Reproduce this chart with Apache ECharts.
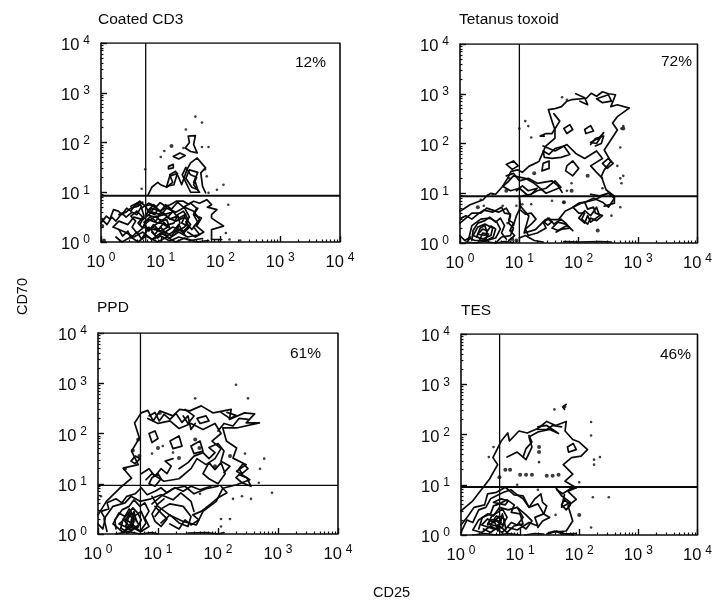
<!DOCTYPE html>
<html><head><meta charset="utf-8">
<script src="https://cdn.jsdelivr.net/npm/echarts@6/dist/echarts.min.js"></script>
<style>html,body{margin:0;background:#fff}#c{width:715px;height:600px}</style></head>
<body><div id="c"></div>
<script>
// All contour / dot values are log10 decades: flat x,y,x,y lists
const panelNames = ['Coated CD3','Tetanus toxoid','PPD','TES'];
const percents = ['12%','72%','61%','46%'];
const gatesX = [5.6,10,5.1,4.5];
const gatesY = [8.5,8.7,9.3,9];
const majorTicks = [1,10,100,1000,10000];
const minorTicks = [2,3,4,5,6,7,8,9,20,30,40,50,60,70,80,90,200,300,400,500,600,700,800,900,2000,3000,4000,5000,6000,7000,8000,9000];

const coatedLines = [
 [0,.38,.09,.52,.15,.46,.21,.65,.29,.62,.35,.55,.43,.68,.5,.62,.57,.75,.65,.82,.74,.72,.82,.75,.92,.7,.99,.79,1.08,.72,1.16,.75,1.26,.82,1.38,.82,1.46,.76,1.55,.82,1.65,.78,1.77,.85,1.85,.75,1.78,.7,1.94,.65,1.85,.55,1.85,.48,2.05,.32,1.85,.25,1.85,.05,2.02,.05],
 [.79,.95,.85,1.1,.95,1.2,1.0,1.15,1.1,1.1,1.2,1.2,1.15,1.35,1.25,1.42,1.3,1.3,1.35,1.15,1.44,1.46,1.5,1.59,1.61,1.69,1.75,1.49,1.67,1.39,1.7,1.12,1.75,.99],
 [1.46,2.13,1.58,2.14,1.55,1.96,1.61,1.79,1.5,1.82,1.41,1.89,1.48,2.0,1.46,2.13],
 [1.21,1.72,1.32,1.79,1.41,1.74,1.3,1.67,1.21,1.72],
 [1.13,1.52,1.21,1.56,1.21,1.49,1.13,1.47,1.13,1.52],
 [1.42,1.5,1.5,1.35,1.6,1.3,1.55,1.15,1.65,1.0,1.5,1.0,1.42,1.2,1.36,1.35,1.42,1.5],
 [1.1,1.12,1.15,1.32,1.28,1.38,1.22,1.15,1.1,1.12],
 [1.55,1.2,1.62,1.4,1.48,1.45,1.42,1.28,1.52,1.1,1.62,1.05,1.58,1.2],
 [.2,.3,.3,.42,.45,.35,.55,.5,.7,.45,.85,.6,1.0,.55,1.1,.68,1.25,.6,1.4,.7,1.55,.62,1.65,.45,1.55,.3,1.65,.15,1.45,.1,1.3,.2,1.15,.08,1.0,.18,.85,.05,.7,.2,.55,.1,.4,.2,.2,.3],
 [.7,.3,.8,.45,.95,.38,1.1,.5,1.25,.42,1.4,.5,1.5,.35,1.38,.22,1.2,.3,1.05,.18,.9,.25,.7,.3],
 [.75,.55,.85,.68,.98,.62,1.12,.72,1.2,.6,1.05,.55,.9,.5,.75,.55],
 [.85,.3,.98,.4,1.12,.3,1.0,.22,.85,.3],
 [.25,.1,.35,.0,.5,.1,.62,.0,.75,.12,.95,.0,1.1,.1,1.25,.0,1.4,.08,1.6,.0,1.8,.03],
 [.65,.35,.72,.52,.68,.68,.8,.78,.92,.72],
 [1.25,.2,1.32,.38,1.28,.55,1.38,.62,1.46,.45,1.4,.3,1.25,.2],
 [.3,.55,.42,.6,.5,.68,.62,.72,.7,.8],
 [.02,.45,.1,.35,.18,.5,.25,.42,.35,.58,.42,.5,.52,.6,.6,.55,.68,.72,.6,.78,.5,.72],
 [.3,.25,.36,.12,.45,.22,.5,.08,.6,.2,.68,.06,.78,.25,.72,.4,.82,.5,.92,.42,1.0,.6,1.12,.5,1.2,.62,1.3,.48,1.42,.56,1.35,.38,1.48,.3,1.38,.18,1.28,.28,1.18,.12,1.05,.22,.95,.08,.85,.2],
 [.75,.7,.82,.58,.9,.7,1.0,.62,1.08,.75,1.18,.66,1.28,.8,1.38,.7,1.5,.78,1.6,.68,1.55,.55,1.68,.48,1.6,.32,1.72,.2,1.58,.1,1.45,.2],
 [.72,.35,.8,.22,.88,.35,.96,.25,1.05,.38,1.15,.28,1.1,.45,1.0,.42,.92,.52,.82,.44,.72,.35],
 [.6,.62,.7,.5,.62,.38,.7,.28,.6,.18,.52,.3,.58,.42,.5,.52,.6,.62],
 [1.4,.68,1.48,.5,1.42,.4,1.52,.25,1.62,.4,1.55,.55,1.62,.68],
 [.85,.05,1.0,.12,1.15,.02,1.3,.1,1.5,.03,1.7,.07],
 [1.05,.58,1.15,.46,1.28,.52,1.22,.38,1.1,.34,1.0,.45],
 [.78,.62,.88,.75,.95,.66,.9,.55,.78,.62],
 [.72,.12,.8,.3,.9,.15,1.0,.3,1.1,.12,1.2,.2,1.3,.35,1.4,.15]
];
const coatedDots = [1.58,2.52,1.69,2.4,1.42,2.26,1.8,1.91,1.69,1.91,1.38,1.89,1.06,1.83,1.0,1.71,.74,1.46,.68,1.07,1.94,1.05,2.05,1.15,1.77,1.32,1.74,1.46,1.8,.99,2.13,.75,2.09,.18,2.15,.05,2.33,.03];
const coatedBlobs = [1.18,1.93,.65,.78,.6,.74,.02,.32,.05,.03];

const tetanusLines = [
 [0,.64,.17,.77,.39,.87,.45,.95,.52,1.0,.6,.98,.72,1.14,.8,1.3,.86,1.44,.97,1.47,1.05,1.42,1.16,1.54,1.33,1.64,1.44,1.94,1.6,2.11,1.6,2.27,1.55,2.45,1.49,2.68,1.6,2.7,1.71,2.74,1.8,2.85,1.88,2.88,2.13,2.91,2.21,3.01,2.3,2.95,2.4,3.04,2.5,3.0,2.62,2.98,2.54,2.74,2.65,2.78,2.85,2.71,2.65,2.54,2.57,2.41,2.65,2.27,2.54,2.07,2.43,1.87,2.54,1.64,2.43,1.47,2.38,1.34,2.46,1.07,2.6,.94,2.6,.8,2.43,.74],
 [1.02,.74,1.16,.54,1.08,.2,1.27,.27,1.44,.47,1.66,.47,1.77,.64,2.04,.8,2.27,.87,2.49,1.0],
 [.72,1.14,.85,1.05,1.0,1.1,1.15,.95,1.3,1.05,1.45,1.1,1.6,1.25,1.7,1.12,1.45,1.0,1.25,1.2,1.1,1.3,.9,1.35,.8,1.22,.72,1.14],
 [.78,1.58,.9,1.65,.98,1.55,.88,1.48,.78,1.58],
 [1.4,1.95,1.6,1.85,1.8,1.98,1.95,1.8,2.1,1.7,2.3,1.85,2.4,1.7,2.2,1.55,2.3,1.42,2.4,1.3],
 [1.4,1.6,1.5,1.65,1.5,1.5,1.38,1.45,1.4,1.6],
 [1.8,1.55,1.9,1.65,2.0,1.5,1.9,1.35,1.78,1.45,1.8,1.55],
 [1.75,2.3,1.85,2.38,1.9,2.28,1.8,2.2,1.75,2.3],
 [2.1,2.28,2.2,2.36,2.25,2.25,2.12,2.2,2.1,2.28],
 [2.2,2.02,2.35,2.12,2.42,2.22,2.3,2.0,2.2,2.02],
 [2.4,1.6,2.5,1.7,2.58,1.6,2.48,1.5,2.4,1.6],
 [2.0,.5,2.1,.65,2.2,.55,2.3,.72,2.35,.55,2.2,.42,2.15,.55,2.1,.4,2.0,.5],
 [1.55,.3,1.65,.42,1.78,.38,1.9,.25,1.8,.35,1.65,.25,1.55,.3],
 [0,.4,.1,.5,.2,.6,.35,.6,.45,.7,.65,.62,.78,.7,.85,.55,.82,.4,.9,.3,.85,.15,.7,.12,.6,0],
 [.15,.1,.2,.35,.35,.48,.5,.5,.62,.42,.68,.28,.6,.1,.45,.05,.25,.05,.15,.1],
 [.22,.15,.3,.32,.42,.38,.55,.3,.52,.15,.38,.08,.22,.15],
 [.3,.18,.38,.28,.46,.25,.44,.15,.3,.18],
 [0,.15,.08,.05,.18,.12,.12,.02],
 [.1,.02,.25,0,.4,.03,.6,0,.75,.03,.9,.01],
 [1.0,.1,1.1,.15,1.25,.05,1.4,.02],
 [1.75,.03,2.0,.02,2.35,.03,2.55,.02],
 [1.95,3.0,2.1,2.92,2.15,2.78,2.02,2.85],
 [2.3,2.9,2.5,2.98,2.55,2.85,2.4,2.82,2.3,2.9],
 [.9,.35,.95,.55,1.02,.72,1.0,.95],
 [.02,.5,.1,.55,.2,.48,.3,.58,.4,.66,.55,.62,.7,.72,.75,.6,.85,.58,.82,.46,.9,.4,.84,.25,.92,.15,.82,.05],
 [.2,.05,.22,.25,.3,.4,.42,.45,.5,.52,.6,.42,.68,.5,.75,.35,.7,.2,.78,.08],
 [.28,.12,.34,.3,.42,.35,.45,.22,.52,.34,.6,.28,.56,.12,.46,.06,.28,.12],
 [.33,.05,.38,.2,.48,.18,.42,.05],
 [1.02,.66,1.1,.58,1.2,.6,1.28,.48,1.2,.38,1.1,.28,1.15,.15,1.3,.2,1.45,.3,1.4,.42,1.5,.5,1.58,.38,1.7,.48,1.78,.4,1.85,.3,1.72,.28,1.62,.22],
 [1.42,.42,1.48,.5,1.54,.42,1.48,.36,1.42,.42],
 [1.9,.72,2.0,.8,2.1,.82,2.15,.68,2.25,.72,2.28,.6,2.4,.55,2.3,.45,2.2,.5,2.15,.38,2.05,.48,2.1,.6,2.0,.6,1.9,.72],
 [2.1,.82,2.25,.9,2.4,.82,2.5,.72,2.6,.9,2.5,1.0,2.35,.95,2.2,.98],
 [.95,1.05,1.05,1.15,1.15,1.05,1.3,1.1,1.2,.98,1.05,.95],
 [.78,1.35,.9,1.4,1.0,1.25,1.15,1.3,1.3,1.2,1.55,1.25,1.65,1.15,1.72,1.02],
 [1.58,2.6,1.68,2.45,1.55,2.2,1.45,2.2,1.35,2.15,1.42,2.15],
 [1.4,1.85,1.5,1.78,1.6,1.9,1.75,1.95,1.85,1.78,1.7,1.72,1.55,1.7,1.42,1.72,1.4,1.85],
 [2.2,1.98,2.28,2.1,2.42,2.15,2.38,2.0,2.28,1.95]
];
const tetanusDots = [1.72,2.93,1.8,2.88,1.1,2.45,1.15,2.35,1.0,2.3,1.2,2.12,.83,1.3,.72,.75,.95,.75,1.05,.78,1.2,.78,.8,.4,.88,.25,.35,.87,.55,.98,.4,.75,1.8,1.05,1.88,1.2,1.55,.85,1.75,.82,2.7,.72,2.55,.55,2.65,1.55,2.7,1.3,2.72,1.2,2.4,1.1,2.75,1.35,2.7,1.92,2.75,2.35,2.72,2.3];
const tetanusBlobs = [1.88,1.05,2.32,.25,.88,.08,.95,.05,.3,.72,.78,1.05,1.75,.82,2.75,2.3,1.25,1.4,2.15,1.35];

const ppdLines = [
 [0,.38,.14,.65,.36,.91,.56,1.11,.42,1.31,.67,1.38,.56,1.65,.69,1.91,.61,2.21,.72,2.41,.83,2.46,.92,2.25,1.03,2.45,1.25,2.35,1.36,2.48,1.53,2.45,1.72,2.55,1.92,2.41,2.22,2.48,2.19,2.28,2.44,2.41,2.61,2.39,2.47,2.21,2.69,2.21,2.31,2.11,2.08,2.11,2.14,1.85,2.31,1.71,2.25,1.51,2.47,1.38,2.31,1.25,2.53,1.08,2.31,.98,2.08,.91,1.97,.65,1.75,.45,1.64,.18,1.42,.25,1.19,.38,1.0,.55,.9,.75],
 [.83,2.3,1.0,2.2,1.2,2.25,1.35,2.1,1.55,2.2,1.75,2.08,1.95,2.2,2.05,2.0,1.9,1.85,2.05,1.7,1.95,1.5,1.8,1.38,1.65,1.5,1.55,1.3,1.35,1.1,1.1,1.05,.9,1.2,.8,1.08],
 [1.8,2.35,1.85,2.25,1.7,2.2,1.65,2.3,1.8,2.35],
 [2.05,2.42,2.2,2.3,2.3,2.36,2.15,2.42],
 [1.45,2.48,1.6,2.35,1.5,2.2,1.42,2.35],
 [1.2,1.85,1.35,1.95,1.4,1.75,1.25,1.7,1.2,1.85],
 [1.55,1.75,1.7,1.85,1.75,1.65,1.6,1.6,1.55,1.75],
 [1.75,1.2,1.85,1.42,1.95,1.28,2.05,1.42,2.12,1.2,2.0,1.0,1.85,1.1,1.75,1.2],
 [2.35,1.3,2.42,1.4,2.5,1.3,2.4,1.2,2.35,1.3],
 [.15,.05,.1,.3,.25,.55,.45,.62,.55,.75,.7,.65,.88,.7,1.05,.78,1.25,.68,1.38,.82,1.55,.65,1.6,.45],
 [.25,.2,.35,.42,.45,.35,.52,.5,.6,.35,.72,.45,.8,.22,.7,.05,.55,.15,.42,.03,.25,.2],
 [.35,.2,.45,.3,.55,.22,.62,.32,.68,.18,.55,.08,.45,.15,.35,.2],
 [.45,.25,.52,.4,.6,.25,.55,.12,.45,.25],
 [1.05,.22,1.2,.38,1.35,.22,1.5,.15,1.55,.35,1.42,.55,1.2,.6,1.05,.5,.95,.35],
 [.9,.6,1.05,.75,1.25,.9,1.45,.95,1.6,.8,1.8,.9,2.0,.95],
 [.3,.0,.5,.05,.7,.0,.9,.03,1.0,.0],
 [1.5,.02,1.8,.03,2.0,.0,2.1,.03],
 [.85,1.0,.95,.95,1.05,1.1,1.0,1.2,.9,1.12,.85,1.0],
 [0,.2,.08,.1,.12,.3,.05,.45,.18,.5,.15,.62,.3,.7,.4,.62,.48,.75,.62,.8,.72,.92,.82,.78,.95,.85,1.05,.92,1.15,.82,1.28,.92,1.42,.85,1.55,.95,1.7,.88,1.88,.95],
 [.3,.1,.28,.28,.4,.48,.52,.55,.6,.68,.7,.55,.78,.62,.85,.45,.78,.32,.85,.15,.72,.05,.62,.12,.5,.02,.38,.12],
 [.38,.12,.42,.3,.5,.4,.58,.52,.66,.42,.72,.28,.66,.12,.55,.2,.45,.08],
 [.46,.15,.5,.3,.55,.42,.6,.3,.58,.15,.46,.15],
 [.52,.08,.56,.3,.6,.45,.64,.25],
 [.95,.55,1.05,.42,1.15,.3,1.05,.15,.95,.25,.9,.4,1.0,.6,1.1,.7],
 [1.2,.2,1.35,.1,1.45,.28,1.55,.18,1.68,.28,1.58,.38,1.72,.45,1.88,.6,2.0,.72,2.15,.82,2.05,.95],
 [.85,2.0,.95,2.05,1.0,1.9,.9,1.82,.85,2.0],
 [.72,1.2,.85,1.3,.95,1.15,1.05,1.3,1.15,1.2,1.22,1.35,1.12,1.45,1.25,1.5],
 [1.35,1.3,1.5,1.42,1.6,1.55,1.75,1.62,1.85,1.5,1.95,1.62,1.85,1.72,2.0,1.8,2.1,1.65,2.05,1.45,2.2,1.35,2.1,1.22],
 [.55,1.45,.62,1.55,.7,1.5,.62,1.4,.55,1.45],
 [.85,2.35,.95,2.42,1.02,2.25,1.1,2.38,1.2,2.28,1.3,2.4,1.4,2.22,1.5,2.35,1.55,2.08,1.62,2.2],
 [2.0,2.05,2.1,2.2,2.25,2.15,2.35,2.3,2.5,2.28],
 [2.3,1.12,2.4,1.02,2.55,.95,2.48,1.12,2.35,1.18,2.3,1.12]
];
const ppdDots = [2.3,2.97,1.62,2.7,2.5,2.7,1.08,1.75,1.25,1.62,.9,1.6,.05,.75,2.77,1.5,2.7,1.3,2.68,1.02,2.9,.82,2.55,.7,2.4,.75,2.25,.7,2.05,.3,2.2,.3,2.05,.15,1.7,.8,2.45,1.6];
const ppdBlobs = [.58,1.66,.67,1.88,.69,1.55,1.69,1.71,1.03,2.41,1.0,1.71,1.35,1.51,1.62,1.88,.45,1.3,1.95,1.35,2.2,1.55];

const tesLines = [
 [0,.48,.2,.68,.37,.94,.48,1.11,.62,1.4,.54,1.54,.68,1.87,.79,2.03,.82,1.87,.98,2.07,1.12,2.03,1.3,2.12,1.45,2.26,1.6,2.18,1.78,2.26,1.76,2.07,1.89,1.9,2.0,1.85,2.14,1.7,2.03,1.57,1.87,1.54,1.73,1.4,1.89,1.21,1.76,1.07,1.95,.94,1.81,.87,1.95,.71,1.81,.58,1.89,.28,1.78,.08,1.48,.05],
 [.78,1.55,.95,1.65,1.1,1.5,1.2,1.75,1.15,1.95,1.3,2.05,1.5,2.1,1.65,2.02,1.45,2.18,1.3,2.15],
 [1.8,1.75,1.9,1.82,1.95,1.7,1.82,1.65,1.8,1.75],
 [1.75,2.5,1.72,2.55,1.78,2.6],
 [1.6,.95,1.7,.78,1.85,.65,1.7,.55,1.75,.8],
 [0,.2,.12,.38,.22,.55,.4,.6,.45,.82,.6,.85,.75,.95,.9,.8,1.05,.78,1.15,.55,1.3,.62,1.4,.42,1.25,.35,1.3,.18,1.15,.25,.95,.1,.8,.15],
 [.2,.1,.3,.3,.45,.42,.55,.38,.65,.55,.8,.5,.95,.55,1.05,.35,.95,.2,.85,.25,.7,.05,.5,.18,.35,.05,.2,.1],
 [.35,.2,.45,.32,.55,.25,.65,.38,.75,.3,.7,.15,.55,.12,.35,.2],
 [.45,.22,.5,.3,.6,.3,.68,.25,.6,.18,.45,.22],
 [.55,.65,.68,.72,.8,.68,.75,.6,.55,.65],
 [.2,0,.4,.03,.6,.0,.8,.03,1.0,.0],
 [1.5,.03,1.62,.08,1.75,.03,1.9,.0],
 [1.08,.0,1.25,.03,1.4,.02],
 [0,.05,.1,.3,.2,.25,.3,.5,.42,.55,.5,.72,.6,.78,.72,.85,.85,.9,.95,.8,1.05,.72,1.15,.55,1.25,.72,1.35,.82,1.38,.65,1.45,.58,1.4,.42,1.5,.35,1.38,.28,1.3,.15],
 [.3,.12,.36,.35,.5,.42,.55,.58,.65,.62,.78,.7,.9,.6,.85,.45,1.0,.42,1.05,.22,.9,.18,.78,.05,.65,.18,.5,.05,.38,.12],
 [.45,.2,.52,.38,.62,.45,.7,.52,.78,.35,.7,.2,.6,.28,.45,.2],
 [.55,.3,.6,.38,.68,.3,.62,.12,.55,.3],
 [.62,.08,.7,.42,.76,.12],
 [.95,.55,1.1,.4,1.2,.28,1.1,.12,.98,.22],
 [1.62,.9,1.72,.82,1.85,.92,1.95,.94],
 [1.75,.7,1.85,.6,1.78,.5,1.7,.6,1.75,.7],
 [1.05,1.55,1.1,1.72,1.2,1.85,1.15,1.98],
 [1.3,2.1,1.45,2.1,1.55,2.18,1.7,2.15],
 [1.45,.02,1.58,.08,1.72,.02,1.95,.03]
];
const tesDots = [1.58,2.5,1.32,1.45,.47,1.55,2.2,2.25,2.2,1.98,2.35,1.55,2.25,1.4,2.25,1.5,2.23,.75,2.5,.75,1.3,.9,.55,1.75,.95,1.0,2.0,1.05,1.6,.4,2.2,.15];
const tesBlobs = [1.32,1.75,1.32,1.65,1.0,1.2,1.1,1.2,1.2,1.2,1.45,1.18,1.55,1.18,1.65,1.2,.75,1.3,.83,1.3,2.0,.4,1.75,2.55,.65,1.15];

const panelLines = [coatedLines,tetanusLines,ppdLines,tesLines];
const panelDots = [coatedDots,tetanusDots,ppdDots,tesDots];
const panelBlobs = [coatedBlobs,tetanusBlobs,ppdBlobs,tesBlobs];

const grids = [
 {left:101,top:43,width:239,height:199},
 {left:460,top:44,width:242,height:199},
 {left:98,top:333,width:240,height:201},
 {left:461,top:334,width:241,height:201}
];
const titlePos = [[98,12],[459,12],[97,300],[461,303]];
const pctPos = [[295,55],[661,54],[290,346],[660,347]];
const gateHWidth = [2,2,1.3,2];

const toPts = f => { const o=[]; for(let i=0;i<f.length;i+=2) o.push([Math.pow(10,f[i]),Math.pow(10,f[i+1])]); return o; };
const sup = v => '{b|10}{s|'+Math.round(Math.log10(v))+'}';
const font = '"Liberation Sans",Arial,sans-serif';
const ink = '#0a0a0a';
const rich = {b:{fontSize:16.5,fontFamily:font,color:ink,padding:[5,0,0,0]},s:{fontSize:12,fontFamily:font,color:ink,padding:[0,0,4,4]}};

const xAxis=[], yAxis=[], series=[], title=[];
grids.forEach((g,i)=>{
 const base={type:'log',logBase:10,min:1,max:10000,gridIndex:i,splitLine:{show:false},
  axisLine:{show:true,onZero:false,lineStyle:{color:ink,width:1.6}},
  axisTick:{show:true,inside:true,length:2.5,customValues:minorTicks,lineStyle:{color:ink,width:1.2}},
  minorTick:{show:false}};
 xAxis.push({...base,position:'bottom',axisLabel:{show:false}});
 yAxis.push({...base,position:'left',axisLabel:{show:false}});
 series.push({type:'line',xAxisIndex:i,yAxisIndex:i,silent:true,symbol:'none',animation:false,
   lineStyle:{color:ink,width:1.6},data:[[1,10000],[10000,10000],[10000,1]]});
 series.push({type:'line',xAxisIndex:i,yAxisIndex:i,silent:true,symbol:'none',animation:false,
   lineStyle:{color:ink,width:1.3},data:[[gatesX[i],1],[gatesX[i],10000]]});
 series.push({type:'line',xAxisIndex:i,yAxisIndex:i,silent:true,symbol:'none',animation:false,
   lineStyle:{color:ink,width:gateHWidth[i]},data:[[1,gatesY[i]],[10000,gatesY[i]]]});
 panelLines[i].forEach(c=>series.push({type:'line',xAxisIndex:i,yAxisIndex:i,silent:true,symbol:'none',animation:false,
   lineStyle:{color:ink,width:1.7,join:'round',cap:'round'},data:toPts(c)}));
 series.push({type:'scatter',xAxisIndex:i,yAxisIndex:i,silent:true,animation:false,symbolSize:2.6,
   itemStyle:{color:ink},data:toPts(panelDots[i])});
 series.push({type:'scatter',xAxisIndex:i,yAxisIndex:i,silent:true,animation:false,symbolSize:4,
   itemStyle:{color:ink},data:toPts(panelBlobs[i])});
 title.push({text:panelNames[i],left:titlePos[i][0],top:titlePos[i][1],padding:0,textStyle:{fontFamily:font,fontSize:15.5,fontWeight:'normal',color:ink}});
 title.push({text:percents[i],left:pctPos[i][0],top:pctPos[i][1],padding:0,textStyle:{fontFamily:font,fontSize:15.5,fontWeight:'normal',color:ink}});
});
// second axis set on the same grids: major ticks and the tick labels
grids.forEach((g,i)=>{
 const base={type:'log',logBase:10,min:1,max:10000,gridIndex:i,splitLine:{show:false},
  axisLine:{show:false},
  axisTick:{show:true,inside:true,length:6,customValues:majorTicks,lineStyle:{color:ink,width:1.4}},
  minorTick:{show:false}};
 xAxis.push({...base,position:'bottom',axisLabel:{formatter:sup,rich,margin:7,customValues:majorTicks,hideOverlap:false}});
 yAxis.push({...base,position:'left',axisLabel:{formatter:sup,rich,margin:11,customValues:majorTicks,hideOverlap:false}});
});

const chart=echarts.init(document.getElementById('c'),null,{renderer:'canvas'});
chart.setOption({animation:false,backgroundColor:'#fff',grid:grids,xAxis,yAxis,series,title,
 graphic:[
  {type:'text',left:15,top:278,rotation:Math.PI/2,style:{text:'CD70',font:'14.5px '+font,fill:ink}},
  {type:'text',left:373,top:585,style:{text:'CD25',font:'14.5px '+font,fill:ink}}
 ]});
</script></body></html>
